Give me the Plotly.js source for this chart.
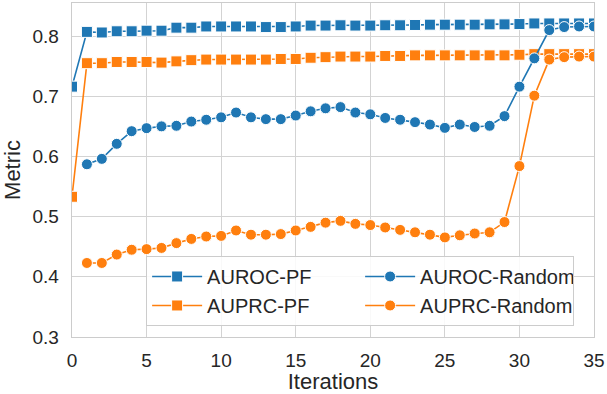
<!DOCTYPE html>
<html>
<head>
<meta charset="utf-8">
<script src="https://cdn.plot.ly/plotly-3.0.1.min.js"></script>
<style>html,body{margin:0;padding:0;background:#fff}#chart{width:607px;height:394px}</style>
</head>
<body>
<div id="chart"></div>
<script>
const iterPF = [0,1,2,3,4,5,6,7,8,9,10,11,12,13,14,15,16,17,18,19,20,21,22,23,24,25,26,27,28,29,30,31,32,33,34,35];
const iterRandom = [1,2,3,4,5,6,7,8,9,10,11,12,13,14,15,16,17,18,19,20,21,22,23,24,25,26,27,28,29,30,31,32,33,34,35];
const aurocPF = [0.716,0.807,0.806,0.808,0.808,0.809,0.809,0.814,0.814,0.816,0.816,0.816,0.816,0.815,0.815,0.816,0.8175,0.8175,0.818,0.8175,0.8175,0.818,0.818,0.8185,0.819,0.819,0.819,0.819,0.8195,0.8195,0.820,0.821,0.821,0.821,0.821,0.821];
const auprcPF = [0.533,0.755,0.755,0.757,0.757,0.757,0.756,0.758,0.760,0.761,0.761,0.761,0.761,0.761,0.762,0.762,0.764,0.765,0.766,0.766,0.766,0.767,0.767,0.768,0.768,0.768,0.768,0.768,0.768,0.768,0.769,0.770,0.770,0.770,0.770,0.770];
const aurocRandom = [0.587,0.596,0.621,0.642,0.647,0.650,0.651,0.658,0.661,0.665,0.673,0.665,0.662,0.662,0.668,0.675,0.680,0.682,0.673,0.670,0.664,0.661,0.657,0.653,0.6475,0.653,0.649,0.651,0.667,0.716,0.763,0.810,0.815,0.816,0.816];
const auprcRandom = [0.423,0.423,0.437,0.445,0.446,0.448,0.456,0.463,0.467,0.468,0.477,0.470,0.470,0.471,0.477,0.483,0.490,0.493,0.488,0.486,0.482,0.478,0.474,0.470,0.4655,0.469,0.472,0.474,0.491,0.584,0.701,0.761,0.765,0.766,0.766];
const xTicks = [0,5,10,15,20,25,30,35];
const yTicks = [0.3,0.4,0.5,0.6,0.7,0.8];

const BLUE = '#1f77b4', ORANGE = '#ff7f0e';
function tr(name, x, y, color, symbol, rank) {
  return {
    type: 'scatter', mode: 'lines+markers', name: name, x: x, y: y,
    legendrank: rank,
    line: {color: color, width: 1.6},
    marker: {color: color, symbol: symbol, size: 11, line: {color: '#ffffff', width: 1}}
  };
}
const data = [
  tr('AUROC-PF', iterPF, aurocPF, BLUE, 'square', 1),
  tr('AUPRC-PF', iterPF, auprcPF, ORANGE, 'square', 3),
  tr('AUROC-Random', iterRandom, aurocRandom, BLUE, 'circle', 2),
  tr('AUPRC-Random', iterRandom, auprcRandom, ORANGE, 'circle', 4)
];
const FONT = 'Liberation Sans, Arial, sans-serif';
const layout = {
  width: 607, height: 394,
  margin: {l: 72, r: 13, t: 3, b: 57},
  paper_bgcolor: '#ffffff', plot_bgcolor: '#ffffff',
  font: {family: FONT, color: '#262626', size: 19},
  showlegend: true,
  xaxis: {
    range: [0, 35], tickvals: xTicks, ticktext: xTicks.map(String),
    showgrid: true, gridcolor: '#d3d3d3', gridwidth: 1,
    showline: true, mirror: true, linecolor: '#cccccc', linewidth: 1.25,
    zeroline: false, ticks: '', ticklabelstandoff: 6,
    tickfont: {size: 19, family: FONT, color: '#262626'},
    title: {text: 'Iterations', font: {size: 22, family: FONT, color: '#262626'}, standoff: 7}
  },
  yaxis: {
    range: [0.3, 0.855], tickvals: yTicks, ticktext: yTicks.map(v => v.toFixed(1)),
    showgrid: true, gridcolor: '#d3d3d3', gridwidth: 1,
    showline: true, mirror: true, linecolor: '#cccccc', linewidth: 1.25,
    zeroline: false, ticks: '', ticklabelstandoff: 8,
    tickfont: {size: 19, family: FONT, color: '#262626'},
    title: {text: 'Metric', font: {size: 22, family: FONT, color: '#262626'}, standoff: 6}
  },
  legend: {
    orientation: 'h', x: 0.142, xanchor: 'left', y: 0.033, yanchor: 'bottom',
    bgcolor: 'rgba(255,255,255,0.85)', bordercolor: '#cccccc', borderwidth: 1,
    font: {size: 20, family: FONT, color: '#262626'},
    traceorder: 'normal', entrywidth: 148, itemwidth: 50
  }
};
Plotly.newPlot('chart', data, layout, {displayModeBar: false, staticPlot: true});
</script>
</body>
</html>
